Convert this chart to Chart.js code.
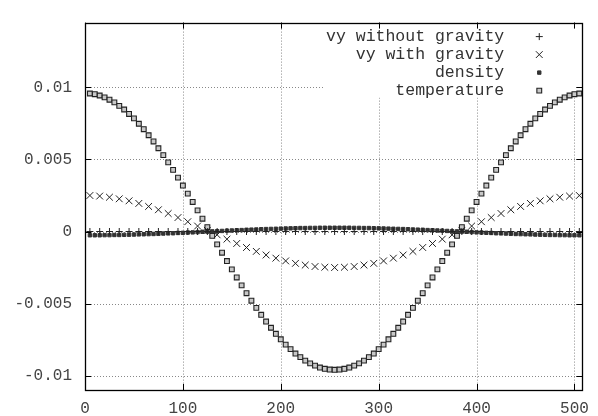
<!DOCTYPE html>
<html><head><meta charset="utf-8">
<script src="https://cdn.jsdelivr.net/npm/chart.js@4.4.0/dist/chart.umd.min.js"></script>
<style>html,body{margin:0;padding:0;background:#fff}#wrap{width:598px;height:416px;position:relative}</style>
</head><body><div id="wrap"><canvas id="c"></canvas></div>
<script>
// velocity series are sampled every 10 units, density/temperature every 5 units
const xCoarse = [5,15,25,35,45,55,65,75,85,95,105,115,125,135,145,155,165,175,185,195,205,215,225,235,245,255,
  265,275,285,295,305,315,325,335,345,355,365,375,385,395,405,415,425,435,445,455,465,475,485,495,505];
const xFine = [5,10,15,20,25,30,35,40,45,50,55,60,65,70,75,80,85,90,95,100,105,110,115,120,125,
  130,135,140,145,150,155,160,165,170,175,180,185,190,195,200,205,210,215,220,225,230,235,240,245,250,255,
  260,265,270,275,280,285,290,295,300,305,310,315,320,325,330,335,340,345,350,355,360,365,370,375,380,
  385,390,395,400,405,410,415,420,425,430,435,440,445,450,455,460,465,470,475,480,485,490,495,500,505];
const vyWithoutGravity = [0,0,0,0,0,0,0,0,0,0,0,0,0,0,0,0,0,0,0,0,0,0,0,0,0,0,
  0,0,0,0,0,0,0,0,0,0,0,0,0,0,0,0,0,0,0,0,0,0,0,0,0];
const vyWithGravity = [0.00250,0.00246,0.00238,0.00227,0.00213,0.00195,0.00174,0.00151,0.00125,0.00097,0.00068,0.00038,0.00008,
  -0.00023,-0.00053,-0.00083,-0.00111,-0.00138,-0.00163,-0.00185,-0.00204,-0.00221,-0.00233,-0.00243,-0.00248,-0.00250,
  -0.00248,-0.00243,-0.00233,-0.00221,-0.00204,-0.00185,-0.00163,-0.00138,-0.00111,-0.00083,-0.00053,-0.00023,
  0.00008,0.00038,0.00068,0.00097,0.00125,0.00151,0.00174,0.00195,0.00213,0.00227,0.00238,0.00246,0.00250];
const density = [-0.00026,-0.00026,-0.00026,-0.00025,-0.00025,-0.00024,-0.00024,-0.00023,-0.00022,-0.00021,
  -0.00020,-0.00019,-0.00018,-0.00017,-0.00016,-0.00014,-0.00013,-0.00012,-0.00010,-0.00009,
  -0.00007,-0.00006,-0.00004,-0.00002,-0.00001,
  0.00001,0.00002,0.00004,0.00006,0.00007,0.00009,0.00010,0.00012,0.00013,0.00014,0.00016,0.00017,0.00018,
  0.00019,0.00020,0.00021,0.00022,0.00023,0.00024,0.00024,0.00025,0.00025,0.00026,0.00026,0.00026,0.00026,
  0.00026,0.00026,0.00026,0.00025,0.00025,0.00024,0.00024,0.00023,0.00022,0.00021,0.00020,0.00019,0.00018,
  0.00017,0.00016,0.00014,0.00013,0.00012,0.00010,0.00009,0.00007,0.00006,0.00004,0.00002,0.00001,
  -0.00001,-0.00002,-0.00004,-0.00006,-0.00007,-0.00009,-0.00010,-0.00012,-0.00013,-0.00014,-0.00016,
  -0.00017,-0.00018,-0.00019,-0.00020,-0.00021,-0.00022,-0.00023,-0.00024,-0.00024,-0.00025,-0.00025,
  -0.00026,-0.00026,-0.00026];
const temperature = [0.00958,0.00953,0.00944,0.00931,0.00915,0.00896,0.00872,0.00847,0.00816,0.00785,
  0.00748,0.00710,0.00668,0.00625,0.00578,0.00530,0.00480,0.00428,0.00374,0.00319,0.00263,0.00205,0.00147,
  0.00089,0.00030,-0.00030,-0.00089,-0.00147,-0.00205,-0.00263,-0.00319,-0.00374,-0.00428,-0.00480,-0.00530,
  -0.00578,-0.00625,-0.00668,-0.00710,-0.00748,-0.00785,-0.00816,-0.00847,-0.00872,-0.00896,-0.00915,-0.00931,
  -0.00944,-0.00953,-0.00958,-0.00960,
  -0.00958,-0.00953,-0.00944,-0.00931,-0.00915,-0.00896,-0.00872,-0.00847,-0.00816,-0.00785,-0.00748,-0.00710,
  -0.00668,-0.00625,-0.00578,-0.00530,-0.00480,-0.00428,-0.00374,-0.00319,-0.00263,-0.00205,-0.00147,-0.00089,
  -0.00030,0.00030,0.00089,0.00147,0.00205,0.00263,0.00319,0.00374,0.00428,0.00480,0.00530,0.00578,0.00625,
  0.00668,0.00710,0.00748,0.00785,0.00816,0.00847,0.00872,0.00896,0.00915,0.00931,0.00944,0.00953,0.00958];
const seriesLabels = ['vy without gravity','vy with gravity','density','temperature'];
const xTicks = [0,100,200,300,400,500];
const xTickLabels = ['0','100','200','300','400','500'];
const yTicks = [-0.01,-0.005,0,0.005,0.01];
const yTickLabels = ['-0.01','-0.005','0','0.005','0.01'];

const FONT = 'Liberation Mono';
const pts = (xs, arr) => arr.map((v,i)=>({x:xs[i], y:v}));
const styles = [
  {pointStyle:'cross', radius:3.5, borderColor:'#222', backgroundColor:'#222', borderWidth:1},
  {pointStyle:'crossRot', radius:4.8, borderColor:'#222', backgroundColor:'#222', borderWidth:1},
  {pointStyle:'rect', radius:2.4, borderColor:'#333', backgroundColor:'#333', borderWidth:1},
  {pointStyle:'rect', radius:3.4, borderColor:'#222', backgroundColor:'#c8c8c8', borderWidth:1.1}
];
const seriesData = [[xCoarse,vyWithoutGravity],[xCoarse,vyWithGravity],[xFine,density],[xFine,temperature]];

const frame = {
  id:'frame',
  beforeDatasetsDraw(chart){
    const {ctx, chartArea:a, scales:{x,y}} = chart;
    ctx.save();
    ctx.strokeStyle='#888'; ctx.lineWidth=1; ctx.setLineDash([1,2]);
    ctx.beginPath();
    xTicks.forEach(v=>{const px=Math.round(x.getPixelForValue(v))+0.5; if(px<a.left+2||px>a.right-2) return; ctx.moveTo(px,a.top); ctx.lineTo(px,a.bottom);});
    yTicks.forEach(v=>{const py=Math.round(y.getPixelForValue(v))+0.5; ctx.moveTo(a.left,py); ctx.lineTo(a.right,py);});
    ctx.stroke();
    ctx.setLineDash([]);
    ctx.fillStyle='#fff';
    ctx.fillRect(a.left+238, a.top+1, 252, 74);
    ctx.restore();
  },
  afterDatasetsDraw(chart){
    const {ctx, chartArea:a, scales:{x,y}} = chart;
    ctx.save();
    ctx.strokeStyle='#000'; ctx.lineWidth=1;
    ctx.beginPath();
    const T=6;
    xTicks.forEach(v=>{const px=Math.round(x.getPixelForValue(v))+0.5; ctx.moveTo(px,a.bottom); ctx.lineTo(px,a.bottom-T); ctx.moveTo(px,a.top); ctx.lineTo(px,a.top+T);});
    yTicks.forEach(v=>{const py=Math.round(y.getPixelForValue(v))+0.5; ctx.moveTo(a.left,py); ctx.lineTo(a.left+T,py); ctx.moveTo(a.right,py); ctx.lineTo(a.right-T,py);});
    ctx.stroke();
    ctx.lineWidth=1.3;
    ctx.strokeRect(Math.round(a.left)+0.5, Math.round(a.top)+0.5, Math.round(a.right-a.left), Math.round(a.bottom-a.top));
    // legend
    ctx.font = '16.5px "'+FONT+'"';
    ctx.textAlign='right'; ctx.textBaseline='middle';
    seriesLabels.forEach((lab,i)=>{
      const ly = a.top + 14 + 18*i;
      ctx.fillStyle='#333';
      ctx.fillText(lab, a.right-78, ly);
      const s = styles[i];
      ctx.strokeStyle=s.borderColor; ctx.fillStyle=s.backgroundColor; ctx.lineWidth=s.borderWidth;
      Chart.helpers.drawPoint(ctx, {pointStyle:s.pointStyle, radius:s.radius, rotation:0, borderWidth:s.borderWidth}, a.right-43, ly);
    });
    ctx.restore();
  }
};

new Chart(document.getElementById('c'), {
  type:'scatter',
  data:{datasets: seriesData.map((d,i)=>({label:seriesLabels[i], data:pts(d[0], d[1]), showLine:false,
    pointStyle:styles[i].pointStyle, pointRadius:styles[i].radius, pointBorderColor:styles[i].borderColor,
    pointBackgroundColor:styles[i].backgroundColor, pointBorderWidth:styles[i].borderWidth, pointHoverRadius:styles[i].radius}))},
  options:{
    responsive:true, maintainAspectRatio:false, animation:false,
    layout:{padding:{left:0,right:10,top:10,bottom:0}},
    plugins:{legend:{display:false}, tooltip:{enabled:false}},
    scales:{
      x:{type:'linear', min:0, max:508,
        afterBuildTicks:s=>{s.ticks = xTicks.map(v=>({value:v}));},
        afterFit:s=>{s.height=26;},
        grid:{display:false, drawTicks:false}, border:{display:false},
        ticks:{padding:9, color:'#444', font:{family:FONT, size:16}, maxRotation:0, autoSkip:false,
          callback:(v)=>{const i=xTicks.indexOf(v); return i>=0?xTickLabels[i]:'';}}},
      y:{type:'linear', min:-0.011, max:0.0145,
        afterBuildTicks:s=>{s.ticks = yTicks.map(v=>({value:v}));},
        afterFit:s=>{s.width=85;},
        grid:{display:false, drawTicks:false}, border:{display:false},
        ticks:{padding:13, color:'#444', font:{family:FONT, size:16}, autoSkip:false,
          callback:(v)=>{const i=yTicks.indexOf(v); return i>=0?yTickLabels[i]:'';}}}
    }
  },
  plugins:[frame]
});
</script></body></html>
